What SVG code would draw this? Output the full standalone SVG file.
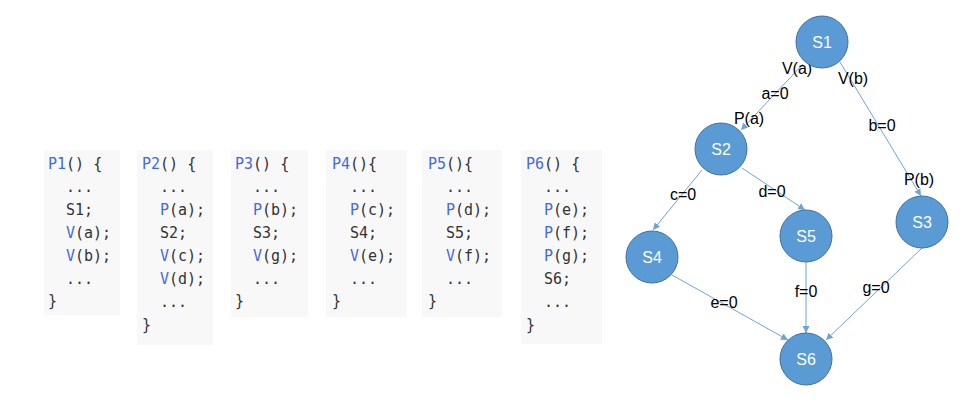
<svg xmlns="http://www.w3.org/2000/svg" width="979" height="411" viewBox="0 0 979 411">
<defs>
<style>
.box{fill:#f8f8f9;}
.code{font-family:"DejaVu Sans Mono","Liberation Mono",monospace;font-size:15px;fill:#333333;}
.kw{fill:#4468e3;}
.node circle{fill:#5b9bd5;stroke:#41719c;stroke-width:1;}
.node text{font-family:"Liberation Sans",Arial,sans-serif;font-size:16px;fill:#ffffff;text-anchor:middle;dominant-baseline:central;}
.edge{stroke:#6fa3d8;stroke-width:1;fill:none;marker-end:url(#arr);}
.lbl{font-family:"Liberation Sans",Arial,sans-serif;font-size:16px;fill:#000000;text-anchor:middle;dominant-baseline:central;}
</style>
<marker id="arr" viewBox="0 0 10 10" refX="10" refY="5" markerWidth="7" markerHeight="7" markerUnits="userSpaceOnUse" orient="auto">
<path d="M0,0 L10,5 L0,10 z" fill="#6fa3d8"/>
</marker>
</defs>
<rect width="979" height="411" fill="#ffffff"/>

<g id="P1">
<rect class="box" x="44" y="150" width="76" height="165"/>
<text class="code" x="48" y="169"><tspan class="kw">P1</tspan>() {</text>
<text class="code" x="66" y="192">...</text>
<text class="code" x="66" y="215">S1;</text>
<text class="code" x="66" y="238"><tspan class="kw">V</tspan>(a);</text>
<text class="code" x="66" y="261"><tspan class="kw">V</tspan>(b);</text>
<text class="code" x="66" y="284">...</text>
<text class="code" x="48" y="306">}</text>
</g>

<g id="P2">
<rect class="box" x="137" y="150" width="76" height="195"/>
<text class="code" x="142" y="169"><tspan class="kw">P2</tspan>() {</text>
<text class="code" x="160" y="192">...</text>
<text class="code" x="160" y="215"><tspan class="kw">P</tspan>(a);</text>
<text class="code" x="160" y="238">S2;</text>
<text class="code" x="160" y="261"><tspan class="kw">V</tspan>(c);</text>
<text class="code" x="160" y="284"><tspan class="kw">V</tspan>(d);</text>
<text class="code" x="160" y="307">...</text>
<text class="code" x="142" y="330">}</text>
</g>

<g id="P3">
<rect class="box" x="231" y="150" width="77" height="167"/>
<text class="code" x="235" y="169"><tspan class="kw">P3</tspan>() {</text>
<text class="code" x="253" y="192">...</text>
<text class="code" x="253" y="215"><tspan class="kw">P</tspan>(b);</text>
<text class="code" x="253" y="238">S3;</text>
<text class="code" x="253" y="261"><tspan class="kw">V</tspan>(g);</text>
<text class="code" x="253" y="284">...</text>
<text class="code" x="235" y="306">}</text>
</g>

<g id="P4">
<rect class="box" x="326" y="150" width="81" height="167"/>
<text class="code" x="332" y="169"><tspan class="kw">P4</tspan>(){</text>
<text class="code" x="350" y="192">...</text>
<text class="code" x="350" y="215"><tspan class="kw">P</tspan>(c);</text>
<text class="code" x="350" y="238">S4;</text>
<text class="code" x="350" y="261"><tspan class="kw">V</tspan>(e);</text>
<text class="code" x="350" y="284">...</text>
<text class="code" x="332" y="306">}</text>
</g>

<g id="P5">
<rect class="box" x="422" y="150" width="80" height="167"/>
<text class="code" x="428" y="169"><tspan class="kw">P5</tspan>(){</text>
<text class="code" x="446" y="192">...</text>
<text class="code" x="446" y="215"><tspan class="kw">P</tspan>(d);</text>
<text class="code" x="446" y="238">S5;</text>
<text class="code" x="446" y="261"><tspan class="kw">V</tspan>(f);</text>
<text class="code" x="446" y="284">...</text>
<text class="code" x="428" y="306">}</text>
</g>

<g id="P6">
<rect class="box" x="521" y="150" width="81" height="194"/>
<text class="code" x="526" y="169"><tspan class="kw">P6</tspan>() {</text>
<text class="code" x="544" y="192">...</text>
<text class="code" x="544" y="215"><tspan class="kw">P</tspan>(e);</text>
<text class="code" x="544" y="238"><tspan class="kw">P</tspan>(f);</text>
<text class="code" x="544" y="261"><tspan class="kw">P</tspan>(g);</text>
<text class="code" x="544" y="284">S6;</text>
<text class="code" x="544" y="307">...</text>
<text class="code" x="526" y="330">}</text>
</g>

<g id="connectors">
<path class="edge" d="M803,64 L741,130"/>
<path class="edge" d="M840,62 L921,196"/>
<path class="edge" d="M702,170 L653,230"/>
<path class="edge" d="M742,168 L805,210"/>
<path class="edge" d="M672,275 L788,340"/>
<path class="edge" d="M806,262 L806,333"/>
<path class="edge" d="M922,248 L826,340"/>
<text class="lbl" x="797" y="68">V(a)</text>
<text class="lbl" x="775" y="93">a=0</text>
<text class="lbl" x="749" y="118">P(a)</text>
<text class="lbl" x="853" y="78">V(b)</text>
<text class="lbl" x="882" y="125">b=0</text>
<text class="lbl" x="919" y="179">P(b)</text>
<text class="lbl" x="683" y="194">c=0</text>
<text class="lbl" x="772" y="191">d=0</text>
<text class="lbl" x="724" y="302">e=0</text>
<text class="lbl" x="806" y="291">f=0</text>
<text class="lbl" x="876" y="287">g=0</text>
</g>

<g id="S1" class="node"><circle cx="822" cy="42" r="26"/><text x="822" y="42">S1</text></g>
<g id="S2" class="node"><circle cx="721" cy="149" r="26"/><text x="721" y="149">S2</text></g>
<g id="S3" class="node"><circle cx="922" cy="222" r="26"/><text x="922" y="222">S3</text></g>
<g id="S4" class="node"><circle cx="652" cy="257" r="26"/><text x="652" y="257">S4</text></g>
<g id="S5" class="node"><circle cx="806" cy="236" r="26"/><text x="806" y="236">S5</text></g>
<g id="S6" class="node"><circle cx="806" cy="359" r="26"/><text x="806" y="359">S6</text></g>
</svg>
